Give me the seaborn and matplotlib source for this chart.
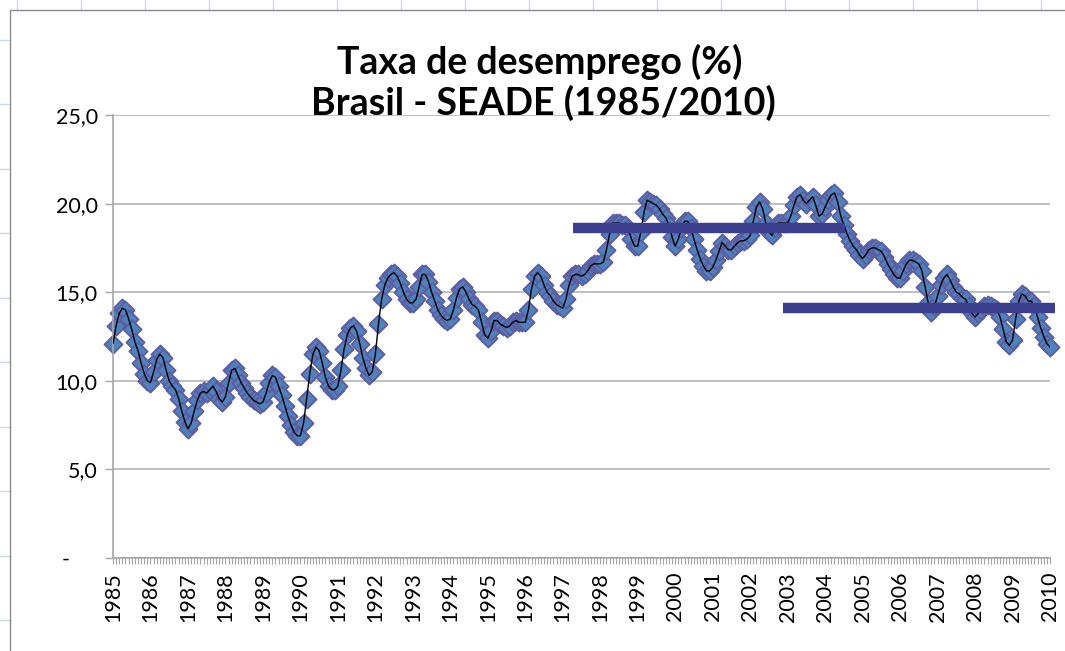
import numpy as np
import pandas as pd
import seaborn as sns
from matplotlib import pyplot as plt
from matplotlib.lines import Line2D

# taxa de desemprego mensal (%), jan/1985 .. jan/2010
rate_1985_1989 = [
    12.1, 13.1, 13.8, 14.1, 14.0, 13.5, 12.9, 12.2, 11.7, 11.0, 10.4, 10.0,
    9.9, 10.5, 11.2, 11.5, 11.3, 10.6, 10.0, 9.7, 9.5, 9.0, 8.3, 7.7,
    7.3, 7.6, 8.3, 8.9, 9.3, 9.4, 9.3, 9.5, 9.7, 9.4, 9.0, 8.8,
    9.1, 9.9, 10.6, 10.7, 10.3, 9.9, 9.6, 9.3, 9.1, 8.9, 8.8, 8.7,
    8.8, 9.3, 9.9, 10.3, 10.2, 9.7, 9.2, 8.6, 8.0, 7.5, 7.1, 6.9,
]
rate_1990_1994 = [
    6.9, 7.6, 9.0, 10.4, 11.5, 11.9, 11.7, 11.0, 10.2, 9.7, 9.5, 9.5,
    9.7, 10.6, 11.8, 12.6, 13.0, 13.1, 12.8, 12.1, 11.3, 10.7, 10.3, 10.5,
    11.5, 13.2, 14.6, 15.4, 15.8, 16.0, 16.1, 15.9, 15.5, 15.0, 14.6, 14.4,
    14.4, 14.6, 15.3, 16.0, 16.0, 15.6, 15.0, 14.5, 14.0, 13.7, 13.5, 13.4,
    13.5, 14.0, 14.7, 15.2, 15.3, 15.0, 14.6, 14.3, 14.2, 14.0, 13.3, 12.6,
]
rate_1995_1999 = [
    12.4, 12.8, 13.4, 13.4, 13.2, 13.1, 13.0, 13.1, 13.3, 13.4, 13.3, 13.3,
    13.3, 14.0, 15.2, 15.9, 16.1, 15.9, 15.4, 15.0, 14.8, 14.5, 14.3, 14.2,
    14.1, 14.6, 15.4, 15.9, 16.0, 16.0, 15.9, 16.0, 16.2, 16.5, 16.6, 16.6,
    16.6, 16.7, 17.4, 18.3, 18.9, 18.9, 18.9, 18.8, 18.8, 18.6, 18.0, 17.6,
    17.6, 18.4, 19.5, 20.2, 20.1, 20.0, 19.9, 19.7, 19.4, 19.2, 18.8, 18.1,
]
rate_2000_2004 = [
    17.6, 18.0, 18.6, 19.0, 19.0, 18.6, 18.0, 17.4, 16.9, 16.5, 16.2, 16.2,
    16.4, 16.8, 17.3, 17.8, 17.6, 17.4, 17.4, 17.6, 17.8, 17.9, 17.9, 18.0,
    18.2, 19.0, 19.8, 20.1, 19.7, 18.9, 18.4, 18.2, 18.6, 18.9, 18.9, 18.9,
    18.9, 19.3, 19.9, 20.4, 20.5, 20.2, 20.0, 20.2, 20.4, 19.9, 19.3, 19.4,
    19.8, 20.2, 20.5, 20.6, 20.1, 19.3, 18.8, 18.3, 17.9, 17.6, 17.4, 17.1,
]
rate_2005_2010 = [
    16.9, 17.1, 17.4, 17.5, 17.5, 17.4, 17.3, 17.0, 16.6, 16.3, 16.0, 15.8,
    15.8, 16.2, 16.6, 16.8, 16.8, 16.7, 16.6, 16.2, 15.3, 14.4, 13.9, 14.2,
    14.8, 15.4, 15.8, 16.0, 15.7, 15.3, 15.0, 14.9, 14.7, 14.6, 14.2, 13.8,
    13.6, 13.8, 14.0, 14.2, 14.3, 14.2, 14.1, 14.0, 13.6, 12.9, 12.2, 12.0,
    12.3, 13.5, 14.5, 14.9, 14.8, 14.5, 14.5, 14.2, 13.6, 13.0, 12.5, 12.1,
    11.9,
]

# médias dos dois períodos (barras horizontais), início/fim em anos
mean_levels = [18.6, 14.1]
mean_start = [1997.27, 2002.88]
mean_end = [2004.53, 2010.13]

years = list(range(1985, 2011))
ytick_vals = [0, 5, 10, 15, 20, 25]
ytick_labels = ['-     ', '5,0', '10,0', '15,0', '20,0', '25,0']


def main():
    rate = rate_1985_1989 + rate_1990_1994 + rate_1995_1999 + rate_2000_2004 + rate_2005_2010
    df = pd.DataFrame({'mes': np.arange(len(rate)), 'taxa': rate})

    sns.set_style('white')
    plt.rcParams['font.family'] = ['Lato', 'DejaVu Sans']
    plt.rcParams['text.color'] = 'black'

    W, H = 1065, 651
    fig = plt.figure(figsize=(W / 100, H / 100), dpi=100)

    # linhas da planilha atras do grafico
    cell = '#C9D7F2'
    for x in np.arange(17, W, 64):
        fig.add_artist(Line2D([x / W, x / W], [1, 1 - 10 / H], color=cell, lw=1, transform=fig.transFigure))
    for y in np.arange(39.5, H, 64.5):
        fig.add_artist(Line2D([0, 10 / W], [1 - y / H, 1 - y / H], color=cell, lw=1, transform=fig.transFigure))
    # borda do grafico
    fig.add_artist(Line2D([10 / W, 10 / W, 1], [0, 1 - 10 / H, 1 - 10 / H], color='#8C8C8C', lw=1,
                          transform=fig.transFigure))

    ax = fig.add_axes([113 / W, 93 / H, 937 / W, 443 / H])

    sns.scatterplot(data=df, x='mes', y='taxa', marker='D', s=85, color='#4F81BD',
                    edgecolor='#5C5CA3', linewidth=1.3, ax=ax, zorder=2, clip_on=False)
    sns.lineplot(data=df, x='mes', y='taxa', color='black', lw=1, ax=ax, zorder=3)

    for lvl, a, b in zip(mean_levels, mean_start, mean_end):
        ax.plot([(a - 1985) * 12, (b - 1985) * 12], [lvl, lvl], color='#3C3F8E', lw=7.5,
                solid_capstyle='butt', zorder=4, clip_on=False)

    ax.set_xlim(0, 300)
    ax.set_ylim(0, 25)
    ax.set_xticks([(y - 1985) * 12 for y in years])
    ax.set_xticklabels([str(y) for y in years], rotation=90, fontsize=15.5)
    ax.set_xticks(np.arange(0, 301), minor=True)
    ax.set_yticks(ytick_vals)
    ax.set_yticklabels(ytick_labels, fontsize=15.5)
    ax.tick_params(axis='x', which='both', direction='out', length=4, width=0.8,
                   color='#A6A6A6', labelcolor='black', pad=6, bottom=True)
    ax.tick_params(axis='y', direction='out', length=6, width=1, color='#A6A6A6',
                   labelcolor='black', pad=5, left=True)

    ax.set_axisbelow(True)
    ax.yaxis.grid(True, color='#BFBFBF', lw=1.4)
    ax.xaxis.grid(False)
    for side in ['top', 'right']:
        ax.spines[side].set_visible(False)
    for side in ['left', 'bottom']:
        ax.spines[side].set_color('#A6A6A6')
        ax.spines[side].set_linewidth(1.2)
    ax.set_xlabel('')
    ax.set_ylabel('')

    fig.text(0.507, 1 - 62 / H, 'Taxa de desemprego (%)', ha='center', va='center',
             fontsize=27, fontweight='bold', color='black')
    fig.text(0.510, 1 - 103 / H, 'Brasil - SEADE (1985/2010)', ha='center', va='center',
             fontsize=27, fontweight='bold', color='black')

    fig.savefig('out.png', dpi=100, facecolor='white')


if __name__ == '__main__':
    main()
